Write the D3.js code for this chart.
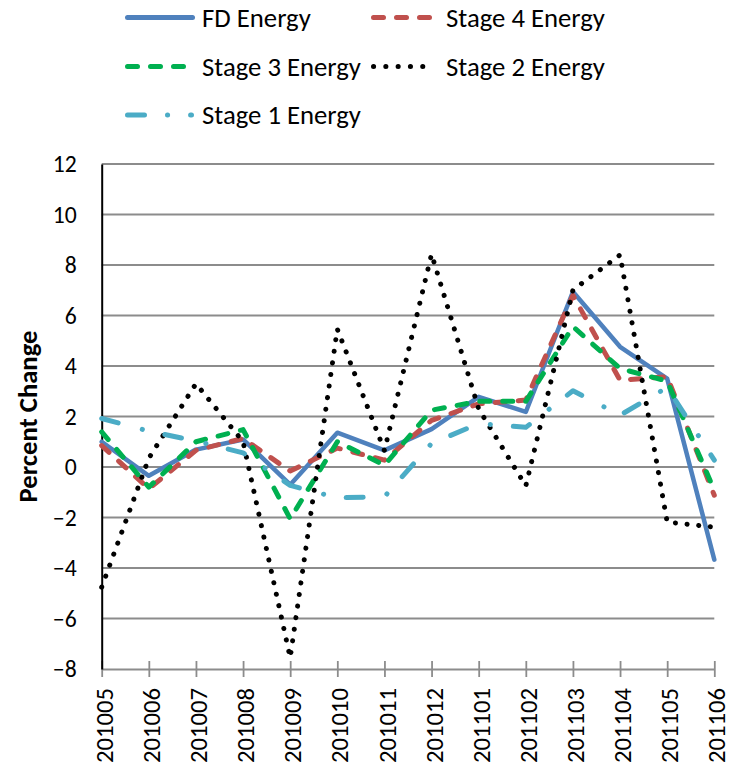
<!DOCTYPE html>
<html><head><meta charset="utf-8">
<script src="https://cdn.jsdelivr.net/npm/d3@7"></script>
<style>html,body{margin:0;padding:0;background:#fff;}svg{display:block;}</style>
</head><body>
<svg id="chart" width="738" height="769"></svg>
<script>
const categories = ["201005","201006","201007","201008","201009","201010","201011","201012","201101","201102","201103","201104","201105","201106"];
const fdEnergy = [1.0, -0.35, 0.69, 1.09, -0.7, 1.36, 0.66, 1.5, 2.78, 2.18, 6.94, 4.76, 3.5, -3.67];
const stage4Energy = [0.85, -0.86, 0.66, 1.13, -0.16, 0.75, 0.27, 1.85, 2.5, 2.65, 6.8, 3.44, 3.57, -1.12];
const stage3Energy = [1.39, -0.8, 1.0, 1.48, -2.05, 1.0, 0.07, 2.25, 2.6, 2.6, 5.56, 3.9, 3.4, -0.92];
const stage2Energy = [-4.76, 0.35, 3.3, 1.0, -7.55, 5.46, 0.65, 8.43, 2.3, -0.75, 7.01, 8.4, -2.18, -2.38];
const stage1Energy = [1.92, 1.42, 1.03, 0.56, -0.73, -1.22, -1.18, 0.93, 1.72, 1.57, 3.02, 2.05, 3.15, 0.27];
const yTicks = [-8,-6,-4,-2,0,2,4,6,8,10,12];
const seriesNames = ["FD Energy","Stage 4 Energy","Stage 3 Energy","Stage 2 Energy","Stage 1 Energy"];

const FONT = "Carlito, Calibri, Lato, 'Open Sans', sans-serif";
const svg = d3.select("#chart");

const x = d3.scalePoint().domain(categories).range([101.7, 714.3]);
const y = d3.scaleLinear().domain([-8, 12]).range([669, 164]);

function fitSize(text, targetW, weight, base) {
  const t = svg.append("text").attr("font-family", FONT).attr("font-size", base)
    .attr("font-weight", weight || "normal").text(text);
  const w = t.node().getComputedTextLength();
  t.remove();
  return base * targetW / w;
}
const legendSize = fitSize("Stage 4 Energy", 159, "normal", 24);
const tickSize = fitSize("201005", 75, "normal", 22);
const ySize = fitSize("12", 24, "normal", 22);
const titleSize = fitSize("Percent Change", 172, "bold", 22);

// gridlines
svg.append("g").selectAll("line").data(yTicks.filter(d => d !== -8)).join("line")
  .attr("x1", x.range()[0]).attr("x2", x.range()[1])
  .attr("y1", d => y(d)).attr("y2", d => y(d))
  .attr("stroke", "#8c8c8c").attr("stroke-width", 1.8);

// x axis
const xAxis = d3.axisBottom(x).tickSizeInner(8).tickSizeOuter(0).tickFormat("");
const gx = svg.append("g").attr("transform", `translate(0,${y(-8)})`).call(xAxis);
gx.select(".domain").attr("stroke", "#8c8c8c").attr("stroke-width", 1.8);
gx.selectAll(".tick line").attr("stroke", "#8c8c8c").attr("stroke-width", 1.8).attr("y1", -8).attr("y2", 8);
gx.selectAll(".tick").append("text")
  .attr("transform", "rotate(-90)")
  .attr("x", -19).attr("y", 2).attr("dy", "0.35em")
  .attr("text-anchor", "end")
  .attr("fill", "#000")
  .attr("font-family", FONT).attr("font-size", tickSize)
  .text(d => d);

// y axis
const yAxis = d3.axisLeft(y).tickValues(yTicks).tickSize(0).tickPadding(25).tickFormat(d3.format("d"));
const gy = svg.append("g").attr("transform", `translate(${x.range()[0]},0)`).call(yAxis);
gy.select(".domain").attr("stroke", "#000").attr("stroke-width", 2);
gy.selectAll(".tick text").attr("font-family", FONT).attr("font-size", ySize).attr("fill", "#000");

// y title
svg.append("text")
  .attr("transform", `translate(28,${(y(-8)+y(12))/2}) rotate(-90)`)
  .attr("text-anchor", "middle").attr("dy", "0.35em")
  .attr("font-family", FONT).attr("font-weight", "bold").attr("font-size", titleSize)
  .text("Percent Change");

// series
const styles = [
  {name: seriesNames[0], data: fdEnergy, color: "#4F81BD", dash: null, width: 4.5},
  {name: seriesNames[1], data: stage4Energy, color: "#C0504D", dash: "10 13", width: 5},
  {name: seriesNames[2], data: stage3Energy, color: "#00B050", dash: "10 13", width: 5},
  {name: seriesNames[3], data: stage2Energy, color: "#000000", dash: "0.1 11.6", width: 5},
  {name: seriesNames[4], data: stage1Energy, color: "#4BACC6", dash: "17 25 0.1 23", width: 5}
];
const line = d3.line().x((d, i) => x(categories[i])).y(d => y(d));
styles.forEach(s => {
  svg.append("path").datum(s.data)
    .attr("d", line)
    .attr("fill", "none")
    .attr("stroke", s.color)
    .attr("stroke-width", s.width)
    .attr("stroke-linecap", "round")
    .attr("stroke-linejoin", "round")
    .attr("stroke-dasharray", s.dash);
});

// legend
const legendPos = [
  {x1: 125, x2: 195, tx: 202, y: 17.5},
  {x1: 371, x2: 432, tx: 446, y: 17.5},
  {x1: 125, x2: 186, tx: 202, y: 66.5},
  {x1: 371, x2: 432, tx: 446, y: 66.5},
  {x1: 125, x2: 194, tx: 202, y: 115}
];
const legendDash = [null, "10 13", "10 13", "0.1 12.2", "17 23 0.1 23 60"];
const lg = svg.append("g");
styles.forEach((s, i) => {
  const p = legendPos[i];
  lg.append("line").attr("x1", p.x1 + 2.5).attr("x2", p.x2 - 2.5).attr("y1", p.y).attr("y2", p.y)
    .attr("stroke", s.color).attr("stroke-width", 5).attr("stroke-linecap", "round")
    .attr("stroke-dasharray", legendDash[i]);
  lg.append("text").attr("x", p.tx).attr("y", p.y).attr("dy", "0.35em")
    .attr("font-family", FONT).attr("font-size", legendSize).attr("fill", "#000")
    .text(s.name);
});
</script>
</body></html>
